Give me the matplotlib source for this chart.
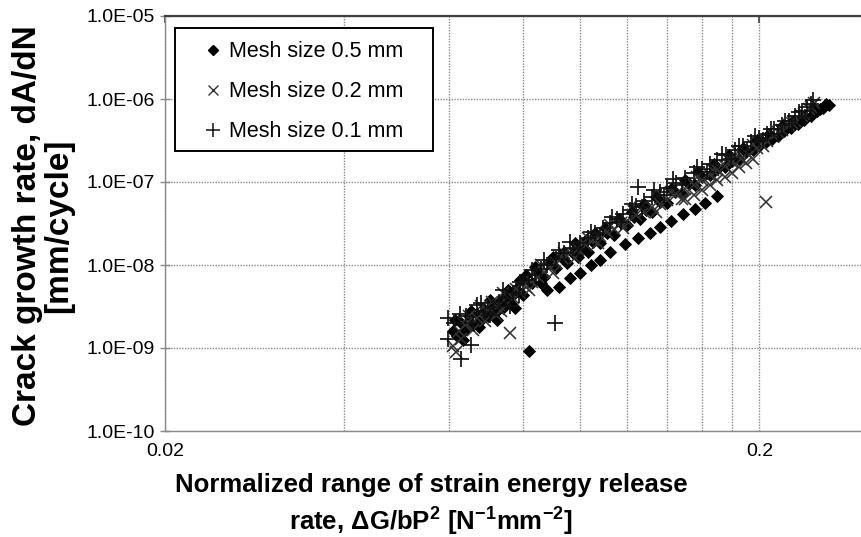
import matplotlib
matplotlib.use("Agg")
import matplotlib.pyplot as plt
from matplotlib.patches import Rectangle
from matplotlib.ticker import FixedLocator, FixedFormatter, NullFormatter
from matplotlib.lines import Line2D

# Mesh size 0.5 mm (filled diamonds)
x_05 = [0.061, 0.062, 0.063, 0.064, 0.065, 0.066, 0.067, 0.068, 0.069, 0.070,
        0.071, 0.072, 0.073, 0.074, 0.075, 0.076, 0.077, 0.078, 0.079, 0.080,
        0.081, 0.082, 0.083, 0.085, 0.087, 0.089, 0.091, 0.093, 0.095, 0.097,
        0.099, 0.101, 0.103, 0.105, 0.108, 0.111, 0.114, 0.117, 0.120, 0.123,
        0.126, 0.129, 0.132, 0.136, 0.140, 0.144, 0.148, 0.152, 0.156, 0.160,
        0.165, 0.170, 0.175, 0.180, 0.185, 0.190, 0.195, 0.200, 0.205, 0.210,
        0.215, 0.220, 0.226, 0.232, 0.238, 0.244, 0.250, 0.256, 0.262,
        0.088, 0.092, 0.096, 0.100, 0.104, 0.108, 0.112, 0.119, 0.125, 0.131,
        0.136, 0.142, 0.149, 0.156, 0.162, 0.170,
        0.0615, 0.0635, 0.0655, 0.0675, 0.0705, 0.0725, 0.0755, 0.0775, 0.084, 0.086,
        0.090, 0.094, 0.098, 0.102, 0.106, 0.110, 0.116, 0.122, 0.128, 0.134,
        0.142, 0.150, 0.158, 0.168, 0.178, 0.188, 0.198, 0.208, 0.218, 0.228,
        0.236, 0.247, 0.253, 0.259]
y_05 = [1.6e-9, 1.4e-9, 2.0e-9, 1.65e-9, 2.4e-9, 1.9e-9, 2.6e-9, 2.2e-9, 2.8e-9, 2.4e-9,
        3.3e-9, 2.75e-9, 3.55e-9, 3.0e-9, 4.2e-9, 3.45e-9, 4.35e-9, 5.2e-9, 6.6e-9, 4.4e-9,
        7.6e-9, 9.2e-10, 6.0e-9, 7.9e-9, 7.2e-9, 1.05e-8, 9.1e-9, 1.2e-8, 1.05e-8, 1.38e-8,
        1.26e-8, 1.58e-8, 1.45e-8, 1.9e-8, 1.82e-8, 2.4e-8, 2.3e-8, 3.2e-8, 3.0e-8, 3.8e-8,
        3.6e-8, 4.6e-8, 4.4e-8, 5.75e-8, 5.6e-8, 7.6e-8, 7.2e-8, 9.5e-8, 9.1e-8, 1.15e-7,
        1.2e-7, 1.45e-7, 1.5e-7, 1.8e-7, 1.9e-7, 2.3e-7, 2.4e-7, 2.75e-7, 3.0e-7, 3.3e-7,
        3.6e-7, 4.1e-7, 4.5e-7, 5.0e-7, 5.6e-7, 6.3e-7, 7.1e-7, 7.8e-7, 8.5e-7,
        5.0e-9, 5.4e-9, 6.9e-9, 7.9e-9, 1.0e-8, 1.15e-8, 1.45e-8, 1.8e-8, 2.1e-8, 2.45e-8,
        2.9e-8, 3.4e-8, 4.1e-8, 4.7e-8, 5.6e-8, 6.7e-8,
        2.2e-9, 1.26e-9, 2.8e-9, 1.8e-9, 3.8e-9, 2.2e-9, 5.0e-9, 3.0e-9, 9.5e-9, 6.0e-9,
        1.26e-8, 1.45e-8, 1.82e-8, 2.0e-8, 2.4e-8, 2.8e-8, 3.55e-8, 4.4e-8, 5.5e-8, 6.6e-8,
        8.3e-8, 1.05e-7, 1.32e-7, 1.66e-7, 2.1e-7, 2.6e-7, 3.2e-7, 3.8e-7, 4.7e-7, 5.5e-7,
        6.0e-7, 7.4e-7, 7.6e-7, 8.7e-7]

# Mesh size 0.2 mm (crosses)
x_02 = [0.061, 0.0618, 0.063, 0.064, 0.066, 0.067, 0.069, 0.070, 0.072, 0.073,
        0.0742, 0.076, 0.077, 0.079, 0.081, 0.083, 0.085, 0.087, 0.089, 0.091,
        0.093, 0.096, 0.099, 0.102, 0.105, 0.108, 0.111, 0.114, 0.117, 0.120,
        0.124, 0.128, 0.132, 0.136, 0.140, 0.145, 0.150, 0.155, 0.160, 0.165,
        0.170, 0.175, 0.180, 0.186, 0.192, 0.198, 0.205, 0.206, 0.212, 0.218,
        0.224, 0.230, 0.236, 0.242, 0.247,
        0.150, 0.160, 0.170, 0.180, 0.190,
        0.0625, 0.065, 0.068, 0.071, 0.0735, 0.078, 0.082, 0.086, 0.090, 0.094,
        0.098, 0.103, 0.107, 0.112, 0.118, 0.126, 0.134, 0.142, 0.148, 0.157,
        0.167, 0.177, 0.184, 0.195, 0.203, 0.215, 0.227, 0.238, 0.244,
        0.155, 0.165, 0.175, 0.185, 0.195]
y_02 = [1.07e-9, 8.9e-10, 1.3e-9, 1.9e-9, 1.65e-9, 2.3e-9, 2.1e-9, 2.8e-9, 2.5e-9, 3.3e-9,
        4.6e-9, 1.5e-9, 4.0e-9, 4.6e-9, 5.5e-9, 6.3e-9, 7.1e-9, 8.3e-9, 9.5e-9, 1.07e-8,
        1.2e-8, 1.38e-8, 1.58e-8, 1.74e-8, 2.0e-8, 2.24e-8, 2.5e-8, 2.75e-8, 3.2e-8, 3.4e-8,
        4.0e-8, 4.4e-8, 5.0e-8, 5.5e-8, 6.0e-8, 7.1e-8, 8.3e-8, 9.3e-8, 1.05e-7, 1.2e-7,
        1.38e-7, 1.58e-7, 1.74e-7, 1.9e-7, 2.1e-7, 2.6e-7, 5.8e-8, 3.15e-7, 3.6e-7, 4.2e-7,
        4.8e-7, 5.5e-7, 6.3e-7, 7.6e-7, 8.9e-7,
        6.3e-8, 7.9e-8, 1.05e-7, 1.3e-7, 1.7e-7,
        1.6e-9, 2.4e-9, 3.2e-9, 3.55e-9, 2.8e-9, 5.2e-9, 5.0e-9, 1.0e-8, 7.9e-9, 1.38e-8,
        1.2e-8, 2.1e-8, 1.82e-8, 3.0e-8, 2.8e-8, 4.8e-8, 4.4e-8, 7.6e-8, 6.3e-8, 1.15e-7,
        1.38e-7, 1.9e-7, 2.3e-7, 2.8e-7, 2.75e-7, 4.0e-7, 5.2e-7, 6.6e-7, 7.9e-7,
        6.9e-8, 9.1e-8, 1.15e-7, 1.5e-7, 1.9e-7]

# Mesh size 0.1 mm (plus signs)
x_01 = [0.0598, 0.0598, 0.0628, 0.063, 0.0654, 0.0671, 0.069, 0.0716, 0.073, 0.075,
        0.077, 0.0787, 0.080, 0.082, 0.084, 0.086, 0.088, 0.0905, 0.091, 0.094,
        0.097, 0.100, 0.103, 0.106, 0.109, 0.112, 0.115, 0.118, 0.121, 0.124,
        0.125, 0.128, 0.132, 0.136, 0.140, 0.145, 0.150, 0.155, 0.160, 0.165,
        0.170, 0.176, 0.182, 0.188, 0.194, 0.200, 0.206, 0.212, 0.218, 0.224,
        0.230, 0.236, 0.241, 0.246,
        0.0612, 0.0642, 0.066, 0.068, 0.0705, 0.074, 0.076, 0.079, 0.083, 0.087,
        0.092, 0.096, 0.099, 0.104, 0.108, 0.113, 0.117, 0.122, 0.127, 0.133,
        0.138, 0.143, 0.148, 0.157, 0.163, 0.173, 0.179, 0.185, 0.191, 0.197,
        0.203, 0.209, 0.215, 0.221, 0.227, 0.233, 0.239, 0.244]
y_01 = [2.3e-9, 1.3e-9, 2.6e-9, 7.4e-10, 1.1e-9, 3.3e-9, 2.7e-9, 3.1e-9, 3.6e-9, 4.0e-9,
        4.6e-9, 4.4e-9, 5.9e-9, 6.6e-9, 7.6e-9, 8.9e-9, 1.0e-8, 2.0e-9, 1.17e-8, 1.38e-8,
        1.62e-8, 1.86e-8, 2.1e-8, 2.45e-8, 2.8e-8, 3.2e-8, 3.6e-8, 4.1e-8, 4.6e-8, 5.1e-8,
        8.7e-8, 5.9e-8, 6.6e-8, 7.6e-8, 8.5e-8, 9.8e-8, 1.12e-7, 1.29e-7, 1.45e-7, 1.66e-7,
        1.86e-7, 2.1e-7, 2.4e-7, 2.7e-7, 3.0e-7, 3.4e-7, 3.8e-7, 4.3e-7, 4.8e-7, 5.5e-7,
        6.2e-7, 7.1e-7, 8.1e-7, 9.8e-7,
        2.0e-9, 2.4e-9, 2.0e-9, 3.5e-9, 2.5e-9, 5.0e-9, 3.2e-9, 6.3e-9, 8.7e-9, 1.15e-8,
        1.5e-8, 1.9e-8, 1.58e-8, 2.5e-8, 2.3e-8, 3.8e-8, 3.3e-8, 5.5e-8, 5.0e-8, 7.9e-8,
        6.9e-8, 1.1e-7, 9.1e-8, 1.5e-7, 1.32e-7, 2.2e-7, 1.9e-7, 2.75e-7, 2.4e-7, 3.6e-7,
        3.2e-7, 4.4e-7, 3.8e-7, 5.5e-7, 5.0e-7, 6.9e-7, 6.0e-7, 8.7e-7]

series_labels = ["Mesh size 0.5 mm", "Mesh size 0.2 mm", "Mesh size 0.1 mm"]

y_ticks = [1e-10, 1e-9, 1e-8, 1e-7, 1e-6, 1e-5]
y_tick_labels = ["1.0E-10", "1.0E-09", "1.0E-08", "1.0E-07", "1.0E-06", "1.0E-05"]
x_ticks = [0.02, 0.2]
x_tick_labels = ["0.02", "0.2"]
x_minor = [0.04, 0.06, 0.08, 0.10, 0.12, 0.14, 0.16, 0.18]

plt.rcParams['font.family'] = ['Liberation Sans', 'DejaVu Sans']
plt.rcParams['mathtext.fontset'] = 'custom'
plt.rcParams['mathtext.rm'] = 'Liberation Sans:bold'
plt.rcParams['mathtext.bf'] = 'Liberation Sans:bold'

W, H = 861, 537
fig = plt.figure(figsize=(W / 100, H / 100), dpi=100)
left, right, top, bottom = 165, 864, 16, 431
ax = fig.add_axes([left / W, 1 - bottom / H, (right - left) / W, (bottom - top) / H])

ax.set_xscale('log')
ax.set_yscale('log')
ax.set_xlim(0.02, 0.3)
ax.set_ylim(1e-10, 1e-5)

grid_kw = dict(color='#8a8a8a', linestyle=(0, (1, 1)), linewidth=1.0)
ax.xaxis.set_major_locator(FixedLocator(x_ticks))
ax.xaxis.set_major_formatter(FixedFormatter(x_tick_labels))
ax.xaxis.set_minor_locator(FixedLocator(x_minor))
ax.xaxis.set_minor_formatter(NullFormatter())
ax.yaxis.set_major_locator(FixedLocator(y_ticks))
ax.yaxis.set_major_formatter(FixedFormatter(y_tick_labels))
ax.yaxis.set_minor_locator(FixedLocator([]))
ax.grid(True, which='major', axis='y', **grid_kw)
ax.grid(True, which='both', axis='x', **grid_kw)
ax.set_axisbelow(True)

ax.tick_params(axis='x', which='major', bottom=False, top=True, labelbottom=True,
               labeltop=False, direction='in', length=5, width=1.2, color='#404040',
               labelsize=14, pad=9)
ax.tick_params(axis='x', which='minor', bottom=False, top=False)
ax.tick_params(axis='y', which='major', left=True, direction='inout', length=7,
               width=1.0, color='#8a8a8a', labelsize=14, pad=4)

for s in ['left', 'bottom']:
    ax.spines[s].set_color('#8a8a8a')
    ax.spines[s].set_linestyle((0, (1, 1)))
    ax.spines[s].set_linewidth(1.0)
ax.spines['right'].set_visible(False)
ax.spines['top'].set_color('#404040')
ax.spines['top'].set_linewidth(1.6)

ax.plot(x_05, y_05, linestyle='none', marker='D', markersize=6.0,
        color='black', markeredgewidth=0.6, zorder=3)
ax.plot(x_02, y_02, linestyle='none', marker='x', markersize=8.5,
        color='#333333', markeredgewidth=1.15, zorder=3)
ax.plot(x_01, y_01, linestyle='none', marker='+', markersize=11.5,
        color='#111111', markeredgewidth=1.25, zorder=3)

# legend box
lx0, ly0, lx1, ly1 = 175, 28, 433, 151
box = Rectangle(((lx0 - left) / (right - left), 1 - (ly1 - top) / (bottom - top)),
                (lx1 - lx0) / (right - left), (ly1 - ly0) / (bottom - top),
                transform=ax.transAxes, facecolor='white', edgecolor='black',
                linewidth=1.4, zorder=5)
ax.add_patch(box)
handles = [
    Line2D([], [], linestyle='none', marker='D', markersize=5, color='black'),
    Line2D([], [], linestyle='none', marker='x', markersize=7, color='#333333', markeredgewidth=1.0),
    Line2D([], [], linestyle='none', marker='+', markersize=10, color='#111111', markeredgewidth=1.1),
]
leg = ax.legend(handles, series_labels, loc='upper left',
                bbox_to_anchor=((lx0 + 22 - left) / (right - left), 1 - (ly0 + 7 - top) / (bottom - top)),
                frameon=False, fontsize=15.5, handlelength=0.9, handletextpad=0.3,
                labelspacing=0.88, borderpad=0.3, borderaxespad=0)
leg.set_zorder(6)

fig.text(43 / W, 1 - 226 / H, "Crack growth rate, dA/dN\n[mm/cycle]", rotation=90,
         ha='center', va='center', fontsize=24, fontweight='bold', linespacing=0.98,
         family=['Liberation Sans', 'DejaVu Sans'])
fig.text(431 / W, 1 - 505 / H,
         "Normalized range of strain energy release\n"
         r"rate, $\Delta$G/bP$^{2}$ [N$^{-1}$mm$^{-2}$]",
         ha='center', va='center', fontsize=18.5, fontweight='bold', linespacing=1.25,
         family=['Liberation Sans', 'DejaVu Sans'])

fig.savefig("out.png", dpi=100)
